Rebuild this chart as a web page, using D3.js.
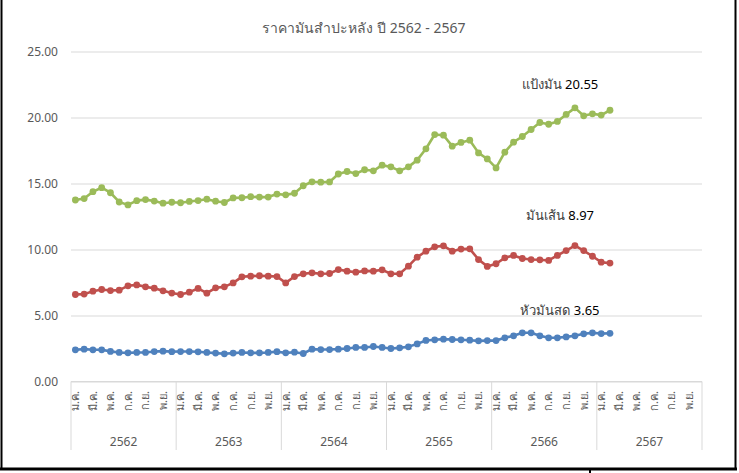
<!DOCTYPE html>
<html>
<head>
<meta charset="utf-8">
<script src="https://cdn.jsdelivr.net/npm/d3@7"></script>
<style>
    body { margin: 0; background: #fff; }
    svg { display: block; font-family: "Segoe UI", "Noto Sans", "DejaVu Sans", sans-serif; }
</style>
</head>
<body>
<svg id="chart" width="739" height="473"></svg>
<script>
// categories
const years = ["2562", "2563", "2564", "2565", "2566", "2567"];
const months = ["ม.ค.", "ก.พ.", "มี.ค.", "เม.ย.", "พ.ค.", "มิ.ย.", "ก.ค.", "ส.ค.", "ก.ย.", "ต.ค.", "พ.ย.", "ธ.ค."];

// monthly prices (baht/kg), ม.ค. 2562 - ก.พ. 2567
const flour = [13.75, 13.86, 14.38, 14.68, 14.30, 13.60, 13.38, 13.70, 13.78, 13.67, 13.51, 13.58,
    13.54, 13.64, 13.71, 13.81, 13.66, 13.56, 13.91, 13.92, 14.00, 13.97, 13.97, 14.20,
    14.14, 14.26, 14.83, 15.13, 15.10, 15.12, 15.72, 15.91, 15.75, 16.04, 15.96, 16.39,
    16.26, 15.96, 16.26, 16.77, 17.63, 18.71, 18.66, 17.83, 18.11, 18.28, 17.32, 16.86,
    16.18, 17.37, 18.13, 18.56, 19.09, 19.62, 19.49, 19.70, 20.23, 20.73, 20.13, 20.28,
    20.18, 20.55];
const chips = [6.59, 6.62, 6.84, 6.97, 6.89, 6.92, 7.25, 7.32, 7.17, 7.07, 6.87, 6.70,
    6.59, 6.77, 7.05, 6.69, 7.10, 7.17, 7.47, 7.93, 7.98, 8.01, 7.98, 7.95,
    7.47, 7.95, 8.16, 8.23, 8.16, 8.18, 8.48, 8.36, 8.28, 8.38, 8.36, 8.46,
    8.16, 8.16, 8.74, 9.42, 9.87, 10.20, 10.28, 9.87, 10.03, 10.05, 9.24, 8.72,
    8.92, 9.37, 9.55, 9.32, 9.24, 9.22, 9.17, 9.55, 9.92, 10.30, 9.92, 9.49,
    9.04, 8.97];
const fresh = [2.40, 2.45, 2.40, 2.40, 2.28, 2.20, 2.17, 2.20, 2.20, 2.27, 2.30, 2.26,
    2.27, 2.27, 2.25, 2.20, 2.15, 2.10, 2.15, 2.20, 2.17, 2.17, 2.20, 2.26,
    2.17, 2.22, 2.12, 2.45, 2.42, 2.42, 2.45, 2.50, 2.58, 2.58, 2.65, 2.58,
    2.50, 2.55, 2.63, 2.85, 3.11, 3.16, 3.21, 3.18, 3.16, 3.13, 3.08, 3.10,
    3.10, 3.31, 3.46, 3.69, 3.69, 3.46, 3.31, 3.31, 3.38, 3.46, 3.61, 3.69,
    3.63, 3.65];

const seriesNames = ["แป้งมัน", "มันเส้น", "หัวมันสด"];
const yTicks = [0, 5, 10, 15, 20, 25];

// labelDy: how far above the last point the end label sits
const series = [
    { name: seriesNames[0], values: flour, color: "#9bbb59", labelDy: -21 },
    { name: seriesNames[1], values: chips, color: "#c0504d", labelDy: -43 },
    { name: seriesNames[2], values: fresh, color: "#4f81bd", labelDy: -18 }
];

const svg = d3.select("#chart");
const plot = { left: 71, right: 702, top: 51.5, bottom: 381.5 };

// every month of every year is a slot on the category axis
const slots = [];
years.forEach(y => months.forEach((m, i) => slots.push({ year: y, month: m, mi: i })));

const x = d3.scaleBand()
    .domain(d3.range(slots.length))
    .range([plot.left, plot.right])
    .padding(0);
const cx = i => x(i) + x.bandwidth() / 2;

const y = d3.scaleLinear()
    .domain([0, 25])
    .range([plot.bottom, plot.top]);

// outer frame (the cropped screenshot edges)
svg.append("line").attr("x1", 1.5).attr("x2", 1.5).attr("y1", 0).attr("y2", 470)
    .attr("stroke", "#000").attr("stroke-width", 2);
svg.append("line").attr("x1", 735.5).attr("x2", 735.5).attr("y1", 0).attr("y2", 470)
    .attr("stroke", "#000").attr("stroke-width", 2);
svg.append("line").attr("x1", 0).attr("x2", 737).attr("y1", 469).attr("y2", 469)
    .attr("stroke", "#000").attr("stroke-width", 3);
svg.append("line").attr("x1", 590).attr("x2", 590).attr("y1", 469).attr("y2", 473)
    .attr("stroke", "#000").attr("stroke-width", 2);

// title
svg.append("text")
    .attr("x", 364).attr("y", 33)
    .attr("text-anchor", "middle")
    .attr("fill", "#595959")
    .style("font-size", "14px")
    .text("ราคามันสำปะหลัง ปี 2562 - 2567");

// grid + y axis
const yAxis = svg.append("g")
    .attr("transform", "translate(" + plot.left + ",0)")
    .call(d3.axisLeft(y).tickValues(yTicks).tickFormat(d3.format(".2f"))
        .tickSize(-(plot.right - plot.left)).tickPadding(13));
yAxis.select(".domain").remove();
yAxis.selectAll(".tick line").attr("stroke", "#d9d9d9");
yAxis.selectAll(".tick text")
    .attr("fill", "#595959")
    .style("font-size", "12px")
    .style("font-family", "'Segoe UI', 'Noto Sans', sans-serif");

// category axis: month row + year row
const xg = svg.append("g");
xg.append("line")
    .attr("x1", plot.left).attr("x2", plot.right)
    .attr("y1", plot.bottom).attr("y2", plot.bottom)
    .attr("stroke", "#d9d9d9");

const yearStarts = years.map((yr, k) => k * months.length);
xg.selectAll(".sep")
    .data(yearStarts.concat([slots.length]))
    .enter().append("line")
    .attr("class", "sep")
    .attr("x1", d => d < slots.length ? x(d) : plot.right)
    .attr("x2", d => d < slots.length ? x(d) : plot.right)
    .attr("y1", plot.bottom).attr("y2", 450)
    .attr("stroke", "#d9d9d9");

xg.selectAll(".mlabel")
    .data(slots.map((s, i) => Object.assign({ i: i }, s)).filter(s => s.mi % 2 === 0))
    .enter().append("text")
    .attr("class", "mlabel")
    .attr("transform", d => "translate(" + cx(d.i) + ",391) rotate(-90)")
    .attr("dy", "0.35em")
    .attr("text-anchor", "end")
    .attr("fill", "#595959")
    .style("font-size", "11px")
    .text(d => d.month);

xg.selectAll(".ylabel")
    .data(years)
    .enter().append("text")
    .attr("class", "ylabel")
    .attr("x", (d, k) => x(k * months.length) + x.bandwidth() * months.length / 2)
    .attr("y", 442)
    .attr("dy", "0.35em")
    .attr("text-anchor", "middle")
    .attr("fill", "#595959")
    .style("font-size", "12px")
    .text(d => d);

// lines + markers
const line = d3.line()
    .x((d, i) => cx(i))
    .y(d => y(d));

const sg = svg.selectAll(".series")
    .data(series)
    .enter().append("g")
    .attr("class", "series");

sg.append("path")
    .attr("d", d => line(d.values))
    .attr("fill", "none")
    .attr("stroke", d => d.color)
    .attr("stroke-width", 2.6)
    .attr("stroke-linejoin", "round");

sg.each(function (s) {
    d3.select(this).selectAll("circle")
        .data(s.values)
        .enter().append("circle")
        .attr("cx", (d, i) => cx(i))
        .attr("cy", d => y(d))
        .attr("r", 3.4)
        .attr("fill", s.color);
});

// end labels: series name + last value
const lbl = sg.append("text")
    .attr("x", d => cx(d.values.length - 1) - 50)
    .attr("y", d => y(d.values[d.values.length - 1]) + d.labelDy)
    .attr("text-anchor", "middle")
    .style("font-size", "13px");
lbl.append("tspan").attr("fill", "#404040").text(d => d.name + " ");
lbl.append("tspan").attr("fill", "#000").text(d => d3.format(".2f")(d.values[d.values.length - 1]));
</script>
</body>
</html>
